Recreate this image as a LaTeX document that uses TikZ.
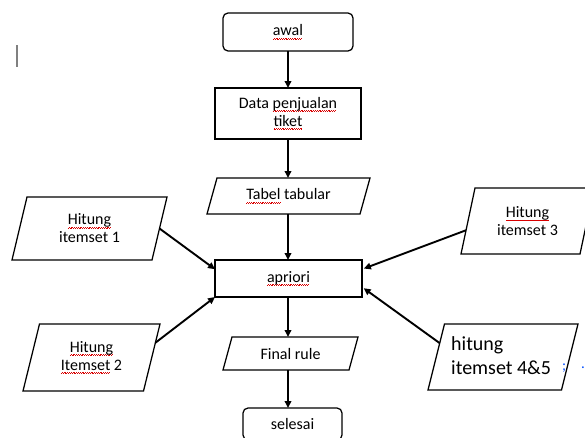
\documentclass[tikz,border=0pt]{standalone}
\usepackage{fontspec}
\setmainfont{Carlito}
\usetikzlibrary{arrows.meta,calc}
\newsavebox\wvbox
\newcommand\rwave[1]{\sbox\wvbox{#1}\rlap{\textcolor{red!85!black}{\leaders\hbox{\rule[-3.6pt]{0.9pt}{0.6pt}\rule[-2.8pt]{0.9pt}{0.6pt}}\hskip\wd\wvbox}}\usebox\wvbox}
% parallelogram: name, centre x, centre y, total width, height, slant, text
\newcommand\para[7]{%
  \node[ptext,minimum width={(#4-#6)*1pt},minimum height=#5pt] (#1) at (#2,#3) {#7};
  \draw[boxline] ([xshift=#6*0.5pt]#1.north west) coordinate (#1-tl)
     -- ([xshift=#6*0.5pt]#1.north east) coordinate (#1-tr)
     -- ([xshift=-#6*0.5pt]#1.south east) coordinate (#1-br)
     -- ([xshift=-#6*0.5pt]#1.south west) coordinate (#1-bl) -- cycle;}
\begin{document}
\begin{tikzpicture}[x=1pt,y=-1pt,
  boxline/.style={line width=1.25pt,line join=miter},
  ptext/.style={rectangle,inner sep=0pt,outer sep=0pt,font=\fontsize{16}{18}\selectfont,align=center,text=black},
  box/.style={ptext,draw,boxline},
  term/.style={box,rounded corners=5pt},
  proc/.style={box},
  flow/.style={line width=1.9pt,-{Triangle[length=7pt,width=6.5pt]}}]
\useasboundingbox (0,0) rectangle (585,437);
% main column
\node[term,minimum width=130pt,minimum height=38pt] (awal) at (288,32) {\rwave{awal}};
\node[proc,minimum width=146pt,minimum height=51pt] (data) at (288,113.5) {Data \rwave{penjualan}\\\rwave{tiket}};
\para{tabel}{288.5}{196}{163}{36}{10}{\rwave{Tabel} tabular}
\node[proc,minimum width=147pt,minimum height=37pt] (apriori) at (288.5,278.5) {\rwave{apriori}};
\para{final}{290.5}{353.5}{135}{33}{9}{Final rule}
\node[term,minimum width=99pt,minimum height=32pt] (selesai) at (292.5,424) {selesai};
% side inputs
\para{h1}{89.5}{228.5}{155}{63}{15}{\rwave{Hitung}\\itemset 1}
\para{h2}{91.5}{357.5}{137}{67}{16.5}{\rwave{Hitung}\\\rwave{Itemset} 2}
\para{h3}{527.5}{221}{133}{66}{14}{\rwave{Hitung}\\itemset 3}
\para{h45}{503}{357}{150}{66}{16.5}{}
\node[font=\fontsize{20}{24}\selectfont,align=left,anchor=west,inner sep=0pt,text=black] (t45) at (451,356) {hitung\\itemset 4\&5};
\node[font=\fontsize{15}{15}\selectfont,text=blue!70!cyan,inner sep=0pt] (semi) at (564,368) {;};
\node[font=\fontsize{15}{15}\selectfont,text=blue!70!cyan,inner sep=0pt] (dot) at (583,368) {.};
% cursor mark
\draw[gray,line width=1.5pt] (17,45) -- (17,67);
% connectors (main column at x = 288)
\coordinate (col) at (288,0);
\draw[flow] (col |- awal.south) -- (col |- data.north);
\draw[flow] (col |- data.south) -- (col |- tabel.north);
\draw[flow] (col |- tabel.south) -- (col |- apriori.north);
\draw[flow] (col |- apriori.south) -- (col |- final.north);
\draw[flow] (col |- final.south) -- (col |- selesai.north);
\draw[flow] (h1.east) -- ($(apriori.north west)!0.25!(apriori.south west)$);
\draw[flow] ($(h2-tr)!0.28!(h2-br)$) -- (apriori.south west);
\draw[flow,shorten >=2pt] ($(h3-tl)!0.64!(h3-bl)$) -- ($(apriori.north east)!0.25!(apriori.south east)$);
\draw[flow,shorten >=2pt] ($(h45-tl)!0.29!(h45-bl)$) -- ($(apriori.north east)!0.73!(apriori.south east)$);
\end{tikzpicture}
\end{document}
